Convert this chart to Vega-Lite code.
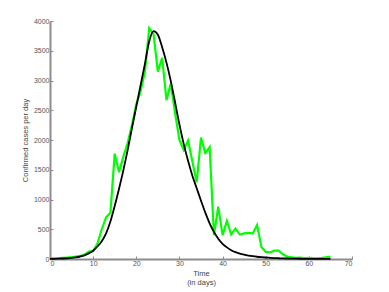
{
  "$schema": "https://vega.github.io/schema/vega-lite/v6.json",
  "width": 302,
  "height": 238,
  "autosize": {"type": "none"},
  "padding": {"left": 50, "top": 21, "right": 37, "bottom": 33},
  "background": "white",
  "config": {
    "view": {"stroke": null},
    "font": "Liberation Sans",
    "axis": {
      "grid": false,
      "domainColor": "#8c8c8c",
      "domainWidth": 2,
      "tickColor": "#8c8c8c",
      "tickSize": -3,
      "tickWidth": 1,
      "labelColor": "#555555",
      "labelFontSize": 7,
      "titleColor": "#444444",
      "titleFontSize": 7.5,
      "titleFontWeight": "normal"
    }
  },
  "datasets": {
    "observed": [
      {"day": 0, "cases": 10}, {"day": 1, "cases": 12}, {"day": 2, "cases": 15}, {"day": 3, "cases": 20},
      {"day": 4, "cases": 25}, {"day": 5, "cases": 30}, {"day": 6, "cases": 40}, {"day": 7, "cases": 50},
      {"day": 8, "cases": 75}, {"day": 9, "cases": 125}, {"day": 10, "cases": 135}, {"day": 11, "cases": 260},
      {"day": 12, "cases": 500}, {"day": 13, "cases": 700}, {"day": 14, "cases": 775}, {"day": 15, "cases": 1770},
      {"day": 16, "cases": 1460}, {"day": 17, "cases": 1720}, {"day": 18, "cases": 1950}, {"day": 19, "cases": 2250},
      {"day": 20, "cases": 2600}, {"day": 21, "cases": 2820}, {"day": 22, "cases": 3150}, {"day": 23, "cases": 3880},
      {"day": 24, "cases": 3780}, {"day": 25, "cases": 3150}, {"day": 26, "cases": 3380}, {"day": 27, "cases": 2670},
      {"day": 28, "cases": 2950}, {"day": 29, "cases": 2450}, {"day": 30, "cases": 2000}, {"day": 31, "cases": 1830},
      {"day": 32, "cases": 1990}, {"day": 33, "cases": 1640}, {"day": 34, "cases": 1290}, {"day": 35, "cases": 2040},
      {"day": 36, "cases": 1780}, {"day": 37, "cases": 1880}, {"day": 38, "cases": 400}, {"day": 39, "cases": 880},
      {"day": 40, "cases": 400}, {"day": 41, "cases": 640}, {"day": 42, "cases": 415}, {"day": 43, "cases": 510},
      {"day": 44, "cases": 410}, {"day": 45, "cases": 430}, {"day": 46, "cases": 440}, {"day": 47, "cases": 430},
      {"day": 48, "cases": 570}, {"day": 49, "cases": 200}, {"day": 50, "cases": 120}, {"day": 51, "cases": 110},
      {"day": 52, "cases": 140}, {"day": 53, "cases": 140}, {"day": 54, "cases": 80}, {"day": 55, "cases": 40},
      {"day": 56, "cases": 30}, {"day": 57, "cases": 20}, {"day": 58, "cases": 22}, {"day": 59, "cases": 15},
      {"day": 60, "cases": 20}, {"day": 61, "cases": 15}, {"day": 62, "cases": 12}, {"day": 63, "cases": 20},
      {"day": 64, "cases": 30}, {"day": 65, "cases": 40}
    ],
    "fitted": [
      {"day": 0, "cases": 2}, {"day": 1, "cases": 3}, {"day": 2, "cases": 5}, {"day": 3, "cases": 8},
      {"day": 4, "cases": 12}, {"day": 5, "cases": 18}, {"day": 6, "cases": 28}, {"day": 7, "cases": 42},
      {"day": 8, "cases": 62}, {"day": 9, "cases": 95}, {"day": 10, "cases": 140}, {"day": 11, "cases": 210},
      {"day": 12, "cases": 300}, {"day": 13, "cases": 430}, {"day": 14, "cases": 630}, {"day": 15, "cases": 890},
      {"day": 16, "cases": 1180}, {"day": 17, "cases": 1490}, {"day": 18, "cases": 1830}, {"day": 19, "cases": 2200},
      {"day": 20, "cases": 2560}, {"day": 21, "cases": 2920}, {"day": 22, "cases": 3280}, {"day": 23, "cases": 3660},
      {"day": 24, "cases": 3830}, {"day": 25, "cases": 3770}, {"day": 26, "cases": 3560}, {"day": 27, "cases": 3300},
      {"day": 28, "cases": 2990}, {"day": 29, "cases": 2630}, {"day": 30, "cases": 2260}, {"day": 31, "cases": 1930},
      {"day": 32, "cases": 1650}, {"day": 33, "cases": 1400}, {"day": 34, "cases": 1190}, {"day": 35, "cases": 980},
      {"day": 36, "cases": 780}, {"day": 37, "cases": 600}, {"day": 38, "cases": 455}, {"day": 39, "cases": 340},
      {"day": 40, "cases": 255}, {"day": 41, "cases": 195}, {"day": 42, "cases": 148}, {"day": 43, "cases": 115},
      {"day": 44, "cases": 90}, {"day": 45, "cases": 72}, {"day": 46, "cases": 58}, {"day": 47, "cases": 47},
      {"day": 48, "cases": 38}, {"day": 49, "cases": 31}, {"day": 50, "cases": 25}, {"day": 51, "cases": 20},
      {"day": 52, "cases": 16}, {"day": 53, "cases": 13}, {"day": 54, "cases": 10}, {"day": 55, "cases": 8},
      {"day": 56, "cases": 6}, {"day": 57, "cases": 5}, {"day": 58, "cases": 4}, {"day": 59, "cases": 3},
      {"day": 60, "cases": 2}, {"day": 61, "cases": 2}, {"day": 62, "cases": 1}, {"day": 63, "cases": 1},
      {"day": 64, "cases": 1}, {"day": 65, "cases": 1}
    ]
  },
  "encoding": {
    "x": {
      "field": "day", "type": "quantitative",
      "scale": {"domain": [0, 70], "nice": false, "zero": false},
      "axis": {"values": [0, 10, 20, 30, 40, 50, 60, 70], "format": "d", "title": ["Time", "(in days)"], "labelPadding": 3, "titlePadding": 3}
    },
    "y": {
      "field": "cases", "type": "quantitative",
      "scale": {"domain": [0, 4000], "nice": false},
      "axis": {"values": [0, 500, 1000, 1500, 2000, 2500, 3000, 3500, 4000], "format": "d", "title": "Confirmed cases per day", "labelPadding": 4, "titlePadding": 4}
    }
  },
  "layer": [
    {
      "data": {"name": "observed"},
      "mark": {"type": "line", "color": "#00ff00", "strokeWidth": 2.2, "strokeJoin": "miter"}
    },
    {
      "data": {"name": "fitted"},
      "mark": {"type": "line", "color": "#000000", "strokeWidth": 1.8, "interpolate": "monotone"}
    }
  ]
}
